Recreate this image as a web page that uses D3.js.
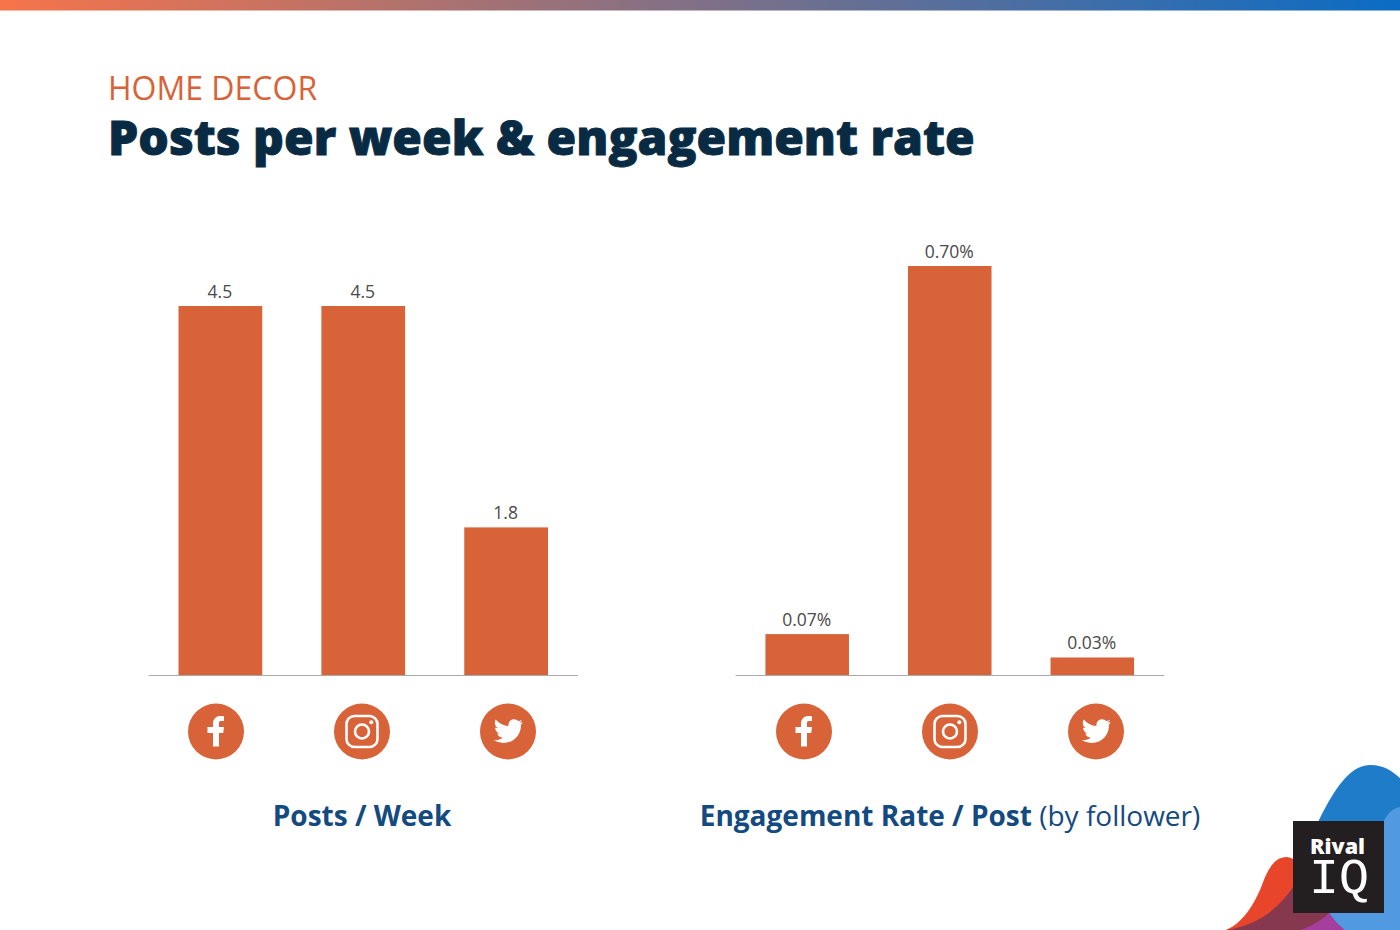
<!DOCTYPE html>
<html>
<head>
<meta charset="utf-8">
<script src="https://cdn.jsdelivr.net/npm/d3@7"></script>
<style>
html, body { margin: 0; padding: 0; background: #fff; }
svg { display: block; font-family: "Open Sans", sans-serif; }
</style>
</head>
<body>
<svg id="chart" width="1400" height="930"></svg>
<script>
const categories = ["facebook", "instagram", "twitter"];
const postsPerWeek = [4.5, 4.5, 1.8];
const engagementRate = [0.07, 0.70, 0.03];
const postsLabels = ["4.5", "4.5", "1.8"];
const engagementLabels = ["0.07%", "0.70%", "0.03%"];

const orange = "#d86339";
const navy = "#082b43";
const blue = "#134a80";

const svg = d3.select("#chart");

// Top gradient strip
const defs = svg.append("defs");
const grad = defs.append("linearGradient").attr("id", "topbar");
grad.append("stop").attr("offset", "0%").attr("stop-color", "#f6744a");
grad.append("stop").attr("offset", "100%").attr("stop-color", "#0a6cc4");
svg.append("rect").attr("width", 1400).attr("height", 10.5).attr("fill", "url(#topbar)");

// Headings
svg.append("text").attr("x", 108).attr("y", 100)
    .attr("font-size", 32).attr("fill", orange).text("HOME DECOR");
svg.append("text").attr("x", 108).attr("y", 154.5)
    .attr("font-size", 48).attr("font-weight", 800).attr("fill", navy)
    .attr("stroke", navy).attr("stroke-width", 0.9)
    .text("Posts per week & engagement rate");

function drawIcon(g, name) {
    g.append("circle").attr("r", 28).attr("fill", orange);
    if (name === "facebook") {
        g.append("path").attr("fill", "#fff")
            .attr("d", "M-3,15 V1.5 H-8.5 V-4.5 H-3 V-8 C-3,-13 0.5,-15.5 4.5,-15.5 L8,-15.3 V-10.5 H5 C3,-10.5 3,-9.5 3,-8 V-4.5 H8 L7.2,1.5 H3 V15 Z");
    } else if (name === "instagram") {
        g.append("rect").attr("x", -15.5).attr("y", -15.5).attr("width", 31).attr("height", 31).attr("rx", 8)
            .attr("fill", "none").attr("stroke", "#fff").attr("stroke-width", 2.6);
        g.append("circle").attr("r", 7).attr("fill", "none").attr("stroke", "#fff").attr("stroke-width", 2.6);
        g.append("circle").attr("cx", 9.3).attr("cy", -9.3).attr("r", 2).attr("fill", "#fff");
    } else {
        g.append("path").attr("fill", "#fff")
            .attr("d", "M14.5,-9.5 C13.5,-9 12.5,-8.8 11.3,-8.6 C12.5,-9.4 13.4,-10.4 13.8,-11.8 C12.7,-11.1 11.5,-10.6 10.2,-10.4 C9,-11.6 7.6,-12.3 6,-12.3 C2.3,-12.3 0,-9 0.5,-5.5 C-4.7,-5.8 -9.2,-8.2 -12.3,-12 C-14,-9 -13.1,-5.2 -10.3,-3.4 C-11.3,-3.4 -12.2,-3.7 -13,-4.1 C-13,-1.2 -11,1.3 -8.2,1.9 C-9,2.1 -9.9,2.2 -10.8,2 C-10,4.4 -7.8,6.1 -5.2,6.2 C-7.6,8.1 -10.8,9 -14.2,8.6 C-11.4,10.4 -8.2,11.4 -4.7,11.4 C7,11.4 13.3,1.9 12.9,-6.6 C13.6,-7.4 14.2,-8.4 14.5,-9.5 Z");
    }
}

function drawPanel(values, labels, opts) {
    const x = d3.scaleBand().domain(categories).range(opts.xRange)
        .paddingInner(0.414).paddingOuter(0.21);
    const y = d3.scaleLinear().domain([0, opts.yMax]).range([675, opts.yTop]);
    const rows = categories.map((c, i) => ({ c, v: values[i], label: labels[i] }));

    svg.append("g").selectAll("rect").data(rows).enter().append("rect")
        .attr("x", d => x(d.c))
        .attr("y", d => y(d.v))
        .attr("width", x.bandwidth())
        .attr("height", d => y(0) - y(d.v))
        .attr("fill", orange);

    svg.append("g").selectAll("text").data(rows).enter().append("text")
        .attr("x", d => x(d.c) + x.bandwidth() / 2 - 0.5)
        .attr("y", d => y(d.v) - 8)
        .attr("text-anchor", "middle")
        .attr("font-size", 17.5)
        .attr("fill", "#4a4a4a")
        .text(d => d.label);

    // baseline
    svg.append("line")
        .attr("x1", opts.xRange[0]).attr("x2", opts.xRange[1])
        .attr("y1", y(0) + 0.5).attr("y2", y(0) + 0.5)
        .attr("stroke", "#aaa").attr("stroke-width", 1);

    // social icons are spaced wider than the bars
    const iconX = d3.scalePoint().domain(categories).range(opts.iconRange);
    categories.forEach(c => {
        drawIcon(svg.append("g").attr("transform", `translate(${iconX(c)},731.5)`), c);
    });

    const title = svg.append("text").attr("x", opts.titleX).attr("y", 825.5)
        .attr("text-anchor", "middle").attr("font-size", 28).attr("fill", blue);
    title.append("tspan").attr("font-weight", 700).text(opts.title);
    if (opts.subtitle) title.append("tspan").text(" " + opts.subtitle);
}

drawPanel(postsPerWeek, postsLabels, {
    xRange: [148.5, 578], iconRange: [216, 508], yMax: 4.5, yTop: 306,
    title: "Posts / Week", titleX: 362
});
drawPanel(engagementRate, engagementLabels, {
    xRange: [735.5, 1164], iconRange: [804, 1096], yMax: 0.70, yTop: 266,
    title: "Engagement Rate / Post", subtitle: "(by follower)", titleX: 950
});

// Logo corner
const logo = svg.append("g");
logo.append("path").attr("fill", "#1f7cc8")
    .attr("d", "M1300,860 C1320,820 1340,765 1370,765 C1385,765 1393,772 1400,778 V930 H1300 Z");
logo.append("path").attr("fill", "#e8452a")
    .attr("d", "M1226,930 C1245,922 1256,900 1262,885 C1268,868 1275,857 1287,857 C1300,858 1310,880 1325,930 Z");
logo.append("path").attr("fill", "#a63e9f")
    .attr("d", "M1300,930 L1320,905 L1345,905 L1345,930 Z");
logo.append("path").attr("fill", "#85384e")
    .attr("d", "M1226,930 C1260,925 1285,905 1300,875 C1310,895 1320,905 1330,912 C1322,920 1312,926 1300,930 Z");
logo.append("path").attr("fill", "#5199e0")
    .attr("d", "M1345,930 C1335,922 1330,915 1325,905 L1380,830 C1385,815 1392,808 1400,807 V930 Z");
logo.append("rect").attr("x", 1293).attr("y", 821).attr("width", 91).attr("height", 92).attr("fill", "#231f20");
logo.append("text").attr("x", 1310).attr("y", 853.5).attr("font-size", 21.5).attr("font-weight", 800)
    .attr("fill", "#fff").text("Rival");
logo.append("text").attr("x", 1309).attr("y", 893).attr("font-size", 50)
    .attr("font-family", "'Liberation Mono', monospace").attr("fill", "#fff")
    .attr("textLength", 60).attr("lengthAdjust", "spacingAndGlyphs").text("IQ");
</script>
</body>
</html>
